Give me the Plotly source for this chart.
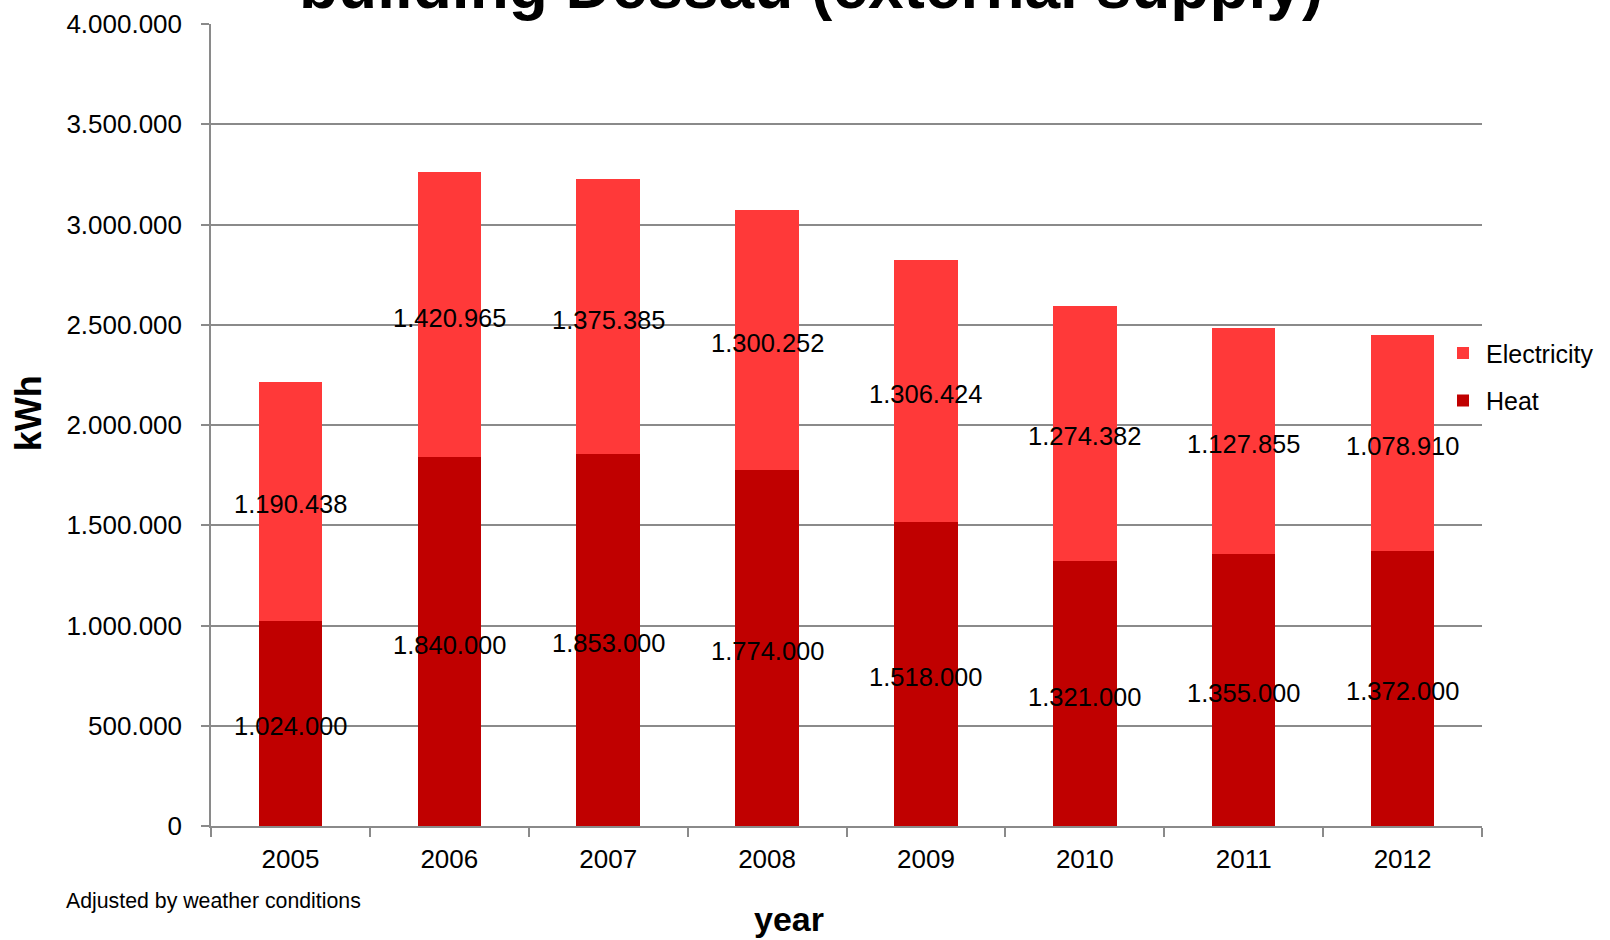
import plotly.graph_objects as go

# Annual energy consumption, weather-adjusted (kWh)
years = ["2005", "2006", "2007", "2008", "2009", "2010", "2011", "2012"]
heat = [1024000, 1840000, 1853000, 1774000, 1518000, 1321000, 1355000, 1372000]
electricity = [1190438, 1420965, 1375385, 1300252, 1306424, 1274382, 1127855, 1078910]

y_ticks = [0, 500000, 1000000, 1500000, 2000000, 2500000, 3000000, 3500000, 4000000]

HEAT_COLOR = "#C00000"
ELEC_COLOR = "#FF3939"
GRID = "#8a8a8a"
FONT = "Liberation Sans, Arial, sans-serif"

fig = go.Figure()

fig.add_trace(go.Bar(
    x=years, y=heat, name="Heat", marker=dict(color=HEAT_COLOR, line=dict(width=0)),
    legendgroup="heat", legendrank=2, hoverinfo="skip",
))
fig.add_trace(go.Bar(
    x=years, y=electricity, name="Electricity", marker=dict(color=ELEC_COLOR, line=dict(width=0)),
    legendgroup="elec", legendrank=1, hoverinfo="skip",
))

# value labels centred in each stacked segment (x given as category index)
labels = []
for i, (h, e) in enumerate(zip(heat, electricity)):
    for mid, val in ((h / 2, h), (h + e / 2, e)):
        labels.append(dict(
            x=i, y=mid, xref="x", yref="y", text=f"{val:,}".replace(",", "."),
            showarrow=False, xanchor="center", yanchor="middle", yshift=-3,
            font=dict(family=FONT, size=25.5, color="black"),
        ))

fig.update_layout(
    width=1610, height=940,
    margin=dict(l=211, r=127, t=24, b=114),
    paper_bgcolor="white", plot_bgcolor="white",
    barmode="stack", bargap=0.6,
    separators=",.",
    font=dict(family=FONT, color="black"),
    showlegend=True,
    legend=dict(
        x=0.9662, y=0.618, xanchor="left", yanchor="top",
        traceorder="grouped", tracegroupgap=12, itemwidth=36,
        font=dict(family=FONT, size=25, color="black"),
        bgcolor="rgba(0,0,0,0)", borderwidth=0,
    ),
    xaxis=dict(
        type="category", range=[-0.5, 7.5], automargin=False, showgrid=False, showline=True,
        linecolor=GRID, linewidth=1.5,
        ticks="outside", tickson="boundaries", ticklen=9, tickcolor=GRID, tickwidth=1.5,
        tickfont=dict(family=FONT, size=26, color="black"), ticklabelstandoff=9,
    ),
    yaxis=dict(
        range=[0, 4000000], tickvals=y_ticks, tickformat=",d", automargin=False,
        showgrid=True, gridcolor=GRID, gridwidth=1.5,
        showline=True, linecolor=GRID, linewidth=1.5, zeroline=False,
        ticks="outside", ticklen=8, tickcolor=GRID, tickwidth=1.5,
        tickfont=dict(family=FONT, size=26, color="black"), ticklabelstandoff=14,
    ),
    annotations=labels + [
        dict(text="<b>building Dessau (external supply)</b>", xref="paper", yref="paper",
             x=0.472, y=1.047, xanchor="center", yanchor="middle", showarrow=False,
             font=dict(family=FONT, size=64, color="black")),
        dict(text="<b>kWh</b>", xref="paper", yref="paper", x=-0.143, y=0.515,
             xanchor="center", yanchor="middle", textangle=-90, showarrow=False,
             font=dict(family=FONT, size=36, color="black")),
        dict(text="<b>year</b>", xref="paper", yref="paper", x=0.455, y=-0.116,
             xanchor="center", yanchor="middle", showarrow=False,
             font=dict(family=FONT, size=34, color="black")),
        dict(text="Adjusted by weather conditions", xref="paper", yref="paper",
             x=-0.116, y=-0.094, xanchor="left", yanchor="middle", showarrow=False,
             font=dict(family=FONT, size=21.3, color="black")),
    ],
)

fig.write_html("out.html")
